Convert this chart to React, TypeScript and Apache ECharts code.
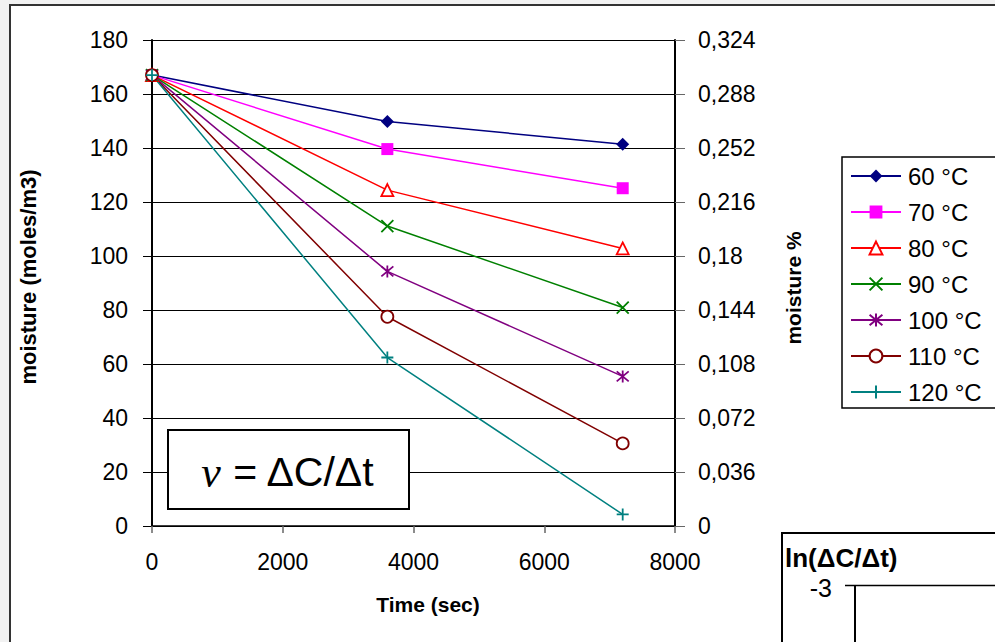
import React, { useEffect, useRef } from "react";
import * as echarts from "echarts";

const times = [0, 3600, 7200];
const names = ["60 °C", "70 °C", "80 °C", "90 °C", "100 °C", "110 °C", "120 °C"];
const s60 = [167, 149.8, 141.4];
const s70 = [167, 139.6, 125.1];
const s80 = [167, 124.4, 102.8];
const s90 = [167, 111.1, 80.9];
const s100 = [167, 94.3, 55.4];
const s110 = [167, 77.5, 30.6];
const s120 = [167, 62.4, 4.3];
const allSeries = [s60, s70, s80, s90, s100, s110, s120];
const colors = ["#000080", "#ff00ff", "#ff0000", "#008000", "#800080", "#800000", "#008080"];
const symbols = [
  "diamond",
  "rect",
  "triangle",
  "path://M0,0L10,10M10,0L0,10",
  "path://M0,0L10,10M10,0L0,10M5,-1L5,11",
  "circle",
  "path://M5,0L5,10M0,5L10,5",
];
const hollow = [false, false, true, true, true, true, true];

const FONT = "'Liberation Sans', Arial, sans-serif";

export default function App() {
  const ref = useRef<HTMLDivElement>(null);
  useEffect(() => {
    document.body.style.margin = "0";
    const chart = echarts.init(ref.current!, null, { renderer: "svg" });
    const series = allSeries.map((vals, i) => ({
      name: names[i],
      type: "line",
      data: vals.map((v, j) => [times[j], v]),
      symbol: symbols[i],
      symbolSize: i === 0 ? 13 : 12,
      showAllSymbol: true,
      lineStyle: { color: colors[i], width: 1.5 },
      itemStyle: {
        color: hollow[i] ? "#ffffff" : colors[i],
        borderColor: colors[i],
        borderWidth: hollow[i] ? 1.8 : 0,
      },
      emphasis: { disabled: true },
      z: 3,
    }));
    chart.setOption({
      animation: false,
      backgroundColor: "#f2f2f2",
      textStyle: { fontFamily: FONT },
      grid: { left: 152, right: 320, top: 40, bottom: 116, containLabel: false },
      xAxis: {
        type: "value",
        min: 0,
        max: 8000,
        interval: 2000,
        axisLine: { show: true, lineStyle: { color: "#000", width: 1.5 } },
        axisTick: { show: true, length: 7, lineStyle: { color: "#666", width: 1.5 } },
        axisLabel: {
          color: "#000",
          fontSize: 23,
          margin: 24,
          fontFamily: FONT,
          formatter: (v: number) => String(v),
        },
        splitLine: { show: false },
      },
      yAxis: [
        {
          type: "value",
          min: 0,
          max: 180,
          interval: 20,
          position: "left",
          axisLine: { show: true, onZero: false, lineStyle: { color: "#000", width: 2 } },
          axisTick: { show: true, length: 9, lineStyle: { color: "#000", width: 1 } },
          axisLabel: { color: "#000", fontSize: 23, margin: 24, fontFamily: FONT },
          splitLine: { show: true, lineStyle: { color: "#000", width: 1 } },
        },
        {
          type: "value",
          min: 0,
          max: 0.324,
          interval: 0.036,
          position: "right",
          axisLine: { show: true, onZero: false, lineStyle: { color: "#000", width: 2 } },
          axisTick: { show: true, length: 10, lineStyle: { color: "#666", width: 1 } },
          axisLabel: {
            color: "#000",
            fontSize: 23,
            margin: 23,
            fontFamily: FONT,
            formatter: (v: number) => String(Math.round(v * 1000) / 1000).replace(".", ","),
          },
          splitLine: { show: false },
        },
      ],
      legend: {
        orient: "vertical",
        left: 842,
        top: 157,
        data: names,
        backgroundColor: "#ffffff",
        borderColor: "#000",
        borderWidth: 1.5,
        borderRadius: 0,
        padding: [7, 30, 4, 8],
        itemWidth: 50,
        itemHeight: 16,
        itemGap: 12,
        textStyle: { color: "#000", fontSize: 24, fontFamily: FONT, padding: [0, 0, 0, 2] },
        selectedMode: false,
      },
      graphic: [
        {
          type: "rect",
          z: -10,
          silent: true,
          shape: { x: 10, y: 5, width: 1100, height: 800 },
          style: { fill: "#ffffff", stroke: "#333", lineWidth: 2 },
        },
        {
          type: "text",
          x: 28,
          y: 277,
          rotation: Math.PI / 2,
          style: {
            text: "moisture (moles/m3)",
            font: `bold 22px ${FONT}`,
            fill: "#000",
            align: "center",
            verticalAlign: "middle",
          },
        },
        {
          type: "text",
          x: 793,
          y: 288,
          rotation: Math.PI / 2,
          style: {
            text: "moisture %",
            font: `bold 21px ${FONT}`,
            fill: "#000",
            align: "center",
            verticalAlign: "middle",
          },
        },
        {
          type: "text",
          x: 428,
          y: 604,
          style: {
            text: "Time (sec)",
            font: `bold 21px ${FONT}`,
            fill: "#000",
            align: "center",
            verticalAlign: "middle",
          },
        },
        {
          type: "rect",
          z: 10,
          shape: { x: 168, y: 430, width: 241, height: 79 },
          style: { fill: "#ffffff", stroke: "#000", lineWidth: 2 },
        },
        {
          type: "text",
          z: 11,
          x: 288,
          y: 472,
          style: {
            text: "{v|ν} = ΔC/Δt",
            font: `41px ${FONT}`,
            fill: "#000",
            align: "center",
            verticalAlign: "middle",
            rich: {
              v: { fontFamily: "'Liberation Serif', 'DejaVu Serif', serif", fontStyle: "italic", fontSize: 44 },
            },
          },
        },
        {
          type: "rect",
          z: 10,
          shape: { x: 782, y: 533, width: 300, height: 200 },
          style: { fill: "#ffffff", stroke: "#000", lineWidth: 2 },
        },
        {
          type: "text",
          z: 11,
          x: 785,
          y: 558,
          style: {
            text: "ln(ΔC/Δt)",
            font: `bold 26px ${FONT}`,
            fill: "#000",
            align: "left",
            verticalAlign: "middle",
          },
        },
        {
          type: "text",
          z: 11,
          x: 832,
          y: 588,
          style: {
            text: "-3",
            font: `25px ${FONT}`,
            fill: "#000",
            align: "right",
            verticalAlign: "middle",
          },
        },
        {
          type: "line",
          z: 11,
          shape: { x1: 845, y1: 585.5, x2: 1000, y2: 585.5 },
          style: { stroke: "#000", lineWidth: 1.5 },
        },
        {
          type: "line",
          z: 11,
          shape: { x1: 855, y1: 585, x2: 855, y2: 650 },
          style: { stroke: "#000", lineWidth: 2 },
        },
      ],
      series,
    });
    return () => chart.dispose();
  }, []);
  return <div ref={ref} style={{ width: 995, height: 642 }} />;
}
